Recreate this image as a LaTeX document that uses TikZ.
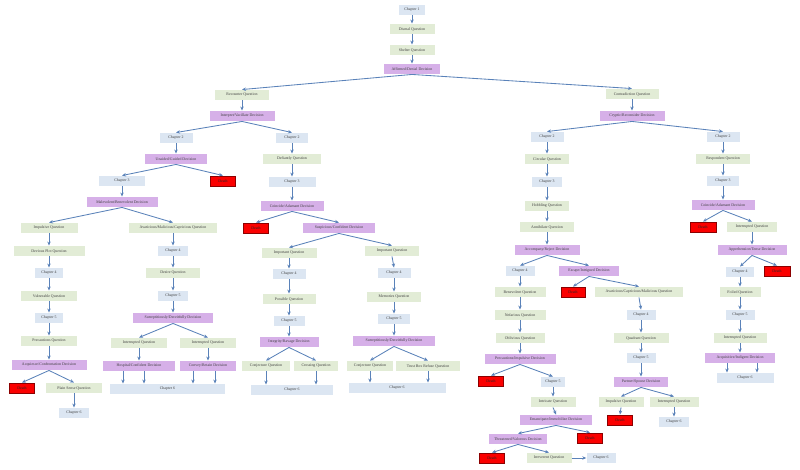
\documentclass[tikz,border=0pt]{standalone}
\usepackage{fontspec}
\setmainfont{Liberation Serif}
\usetikzlibrary{arrows.meta}
\definecolor{chapblue}{RGB}{220,230,242}
\definecolor{quesgreen}{RGB}{226,236,214}
\definecolor{deciviolet}{RGB}{214,176,232}
\definecolor{deadred}{RGB}{250,0,0}
\definecolor{linkblue}{RGB}{90,130,185}

\begin{document}
\begin{tikzpicture}[x=1pt,y=-1pt,>={Stealth[length=4pt,width=3.4pt]},
  box/.style={inner sep=0pt,minimum height=10.5pt,font=\fontsize{3.9}{4.5}\selectfont,text=black!75},
  chap/.style={box,fill=chapblue,minimum width=30pt},
  ques/.style={box,fill=quesgreen,minimum width=54pt},
  deci/.style={box,fill=deciviolet,minimum width=66pt},
  dead/.style={box,fill=deadred,draw=red!55!black,text=black!85,minimum width=25pt},
  link/.style={->,draw=linkblue,line width=0.85pt}]
  \useasboundingbox (0,0) rectangle (800,470);
  % trunk
  \node[chap,minimum width=26pt] (c1) at (412,10) {Chapter 1};
  \node[ques,minimum width=45pt] (q1) at (412,29) {Dismal Question};
  \node[ques,minimum width=45pt] (q2) at (412,50) {Shelter Question};
  \node[deci,minimum width=56pt] (d1) at (412,69) {Affirmed/Denial Decision};
  \node[ques] (q3) at (242,95) {Recounter Question};
  \node[deci,minimum width=65pt] (d2) at (242,116) {Interpret/Vacillate Decision};
  \node[ques,minimum width=53pt] (q4) at (632,94) {Contradiction Question};
  \node[deci,minimum width=65pt] (d3) at (632,116) {Cryptic/Reconsider Decision};
  % left branch
  \node[chap,minimum width=33pt] (c2a) at (176,138) {Chapter 2};
  \node[deci,minimum width=62pt] (d4) at (176,159) {Unaided/Guided Decision};
  \node[dead] (x1) at (223,181) {Death};
  \node[chap,minimum width=46pt] (c3a) at (122,181) {Chapter 3};
  \node[deci,minimum width=71pt] (d5) at (122,202) {Malevolent/Benevolent Decision};
  \node[ques,minimum width=57pt] (q5) at (49,228) {Impulsive Question};
  \node[ques,minimum width=71pt] (q6) at (49,251) {Devious Plot Question};
  \node[chap,minimum width=28pt] (c4a) at (49,273) {Chapter 4};
  \node[ques,minimum width=56pt] (q7) at (49,296) {Vulnerable Question};
  \node[chap,minimum width=28pt] (c5a) at (49,318) {Chapter 5};
  \node[ques,minimum width=56pt] (q8) at (49,341) {Precautions Question};
  \node[deci,minimum width=75pt] (d6) at (49,365) {Acquiesce/Confrontation Decision};
  \node[dead] (x2) at (22,388) {Death};
  \node[ques,minimum width=56pt] (q9) at (74,388) {Plain Sense Question};
  \node[chap] (c6a) at (74,413) {Chapter 6};
  \node[ques,minimum width=88pt] (q10) at (173,228) {Avaricious/Malicious/Capricious Question};
  \node[chap] (c4b) at (173,251) {Chapter 4};
  \node[ques] (q11) at (173,273) {Desire Question};
  \node[chap] (c5b) at (173,296) {Chapter 5};
  \node[deci,minimum width=80pt] (d7) at (173,318) {Surreptitiously/Deceitfully Decision};
  \node[ques,minimum width=56pt] (q12) at (139,343) {Interrupted Question};
  \node[ques,minimum width=56pt] (q13) at (208,343) {Interrupted Question};
  \node[deci,minimum width=72pt] (d8) at (139,366) {Hospital/Confident Decision};
  \node[deci,minimum width=56pt] (d9) at (208,366) {Convey/Retain Decision};
  \node[chap,minimum width=115pt] (c6b) at (167.5,389) {Chapter 6};
  % middle branch
  \node[chap,minimum width=32pt] (c2b) at (292,138) {Chapter 2};
  \node[ques,minimum width=58pt] (q14) at (292,159) {Defiantly Question};
  \node[chap,minimum width=47pt] (c3b) at (292,182) {Chapter 3};
  \node[deci,minimum width=63pt] (d10) at (292,206) {Coincide/Adamant Decision};
  \node[dead] (x3) at (256,228) {Death};
  \node[deci,minimum width=72pt] (d11) at (339,228) {Suspicious/Confident Decision};
  \node[ques,minimum width=55pt] (q15) at (289,253) {Important Question};
  \node[chap,minimum width=33pt] (c4c) at (289,274) {Chapter 4};
  \node[ques,minimum width=53pt] (q16) at (289,299) {Possible Question};
  \node[chap,minimum width=31pt] (c5c) at (289,321) {Chapter 5};
  \node[deci,minimum width=59pt] (d12) at (289,342) {Integrity/Ravage Decision};
  \node[ques,minimum width=48pt] (q17) at (266,366) {Conjecture Question};
  \node[ques,minimum width=44pt] (q18) at (316,366) {Crossing Question};
  \node[chap,minimum width=82pt] (c6c) at (292,390) {Chapter 6};
  \node[ques] (q19) at (392,251) {Important Question};
  \node[chap,minimum width=33pt] (c4d) at (394,273) {Chapter 4};
  \node[ques] (q20) at (394,297) {Memories Question};
  \node[chap,minimum width=32pt] (c5d) at (394,319) {Chapter 5};
  \node[deci,minimum width=82pt] (d13) at (394,341) {Surreptitiously/Deceitfully Decision};
  \node[ques,minimum width=46pt] (q21) at (370,366) {Conjecture Question};
  \node[ques,minimum width=64pt] (q22) at (428,366) {Trust Box Refuse Question};
  \node[chap,minimum width=97pt] (c6d) at (397,388) {Chapter 6};
  % right branch
  \node[chap,minimum width=33pt] (c2c) at (547,137) {Chapter 2};
  \node[ques,minimum width=44pt] (q23) at (547,159) {Circular Question};
  \node[chap] (c3c) at (547,182) {Chapter 3};
  \node[ques,minimum width=44pt] (q24) at (547,206) {Hobbling Question};
  \node[ques] (q25) at (547,227) {Annihilate Question};
  \node[deci,minimum width=65pt] (d14) at (547,250) {Accompany/Reject Decision};
  \node[chap,minimum width=29pt] (c4e) at (520,271) {Chapter 4};
  \node[deci,minimum width=60pt] (d15) at (589,271) {Escape/Intrigued Decision};
  \node[ques,minimum width=51pt] (q26) at (520,292) {Benevolent Question};
  \node[ques,minimum width=51pt] (q27) at (520,315) {Nefarious Question};
  \node[ques,minimum width=49pt] (q28) at (520,338) {Oblivious Question};
  \node[deci,minimum width=71pt] (d16) at (520,359) {Precautions/Impulsive Decision};
  \node[dead] (x4) at (491,381) {Death};
  \node[chap,minimum width=24pt] (c5e) at (553,382) {Chapter 5};
  \node[ques,minimum width=45pt] (q29) at (553,402) {Intricate Question};
  \node[deci,minimum width=72pt] (d17) at (556,420) {Emancipate/Immobilize Decision};
  \node[deci,minimum width=58pt] (d18) at (518,439) {Threatened/Valorous Decision};
  \node[dead] (x5) at (590,438) {Death};
  \node[dead] (x6) at (492,458) {Death};
  \node[ques,minimum width=45pt] (q30) at (549,458) {Irreverent Question};
  \node[chap,minimum width=29pt] (c6e) at (601,458) {Chapter 6};
  \node[dead,minimum width=24pt] (x7) at (573,292) {Death};
  \node[ques,minimum width=88pt] (q31) at (639,292) {Avaricious/Capricious/Malicious Question};
  \node[chap,minimum width=29pt] (c4f) at (641,315) {Chapter 4};
  \node[ques,minimum width=55pt] (q32) at (641,338) {Quadrant Question};
  \node[chap,minimum width=29pt] (c5f) at (641,358) {Chapter 5};
  \node[deci,minimum width=54pt] (d19) at (641,382) {Partner/Spouse Decision};
  \node[ques,minimum width=45pt] (q33) at (621,402) {Impulsive Question};
  \node[ques,minimum width=49pt] (q34) at (674,402) {Interrupted Question};
  \node[dead] (x8) at (620,420) {Death};
  \node[chap] (c6f) at (674,422) {Chapter 6};
  \node[chap,minimum width=33pt] (c2d) at (723,137) {Chapter 2};
  \node[ques] (q35) at (723,159) {Respondent Question};
  \node[chap,minimum width=32pt] (c3d) at (723,181) {Chapter 3};
  \node[deci,minimum width=63pt] (d20) at (723,205) {Coincide/Adamant Decision};
  \node[dead,minimum width=26pt] (x9) at (703,227) {Death};
  \node[ques,minimum width=50pt] (q36) at (752,227) {Interrupted Question};
  \node[deci,minimum width=69pt] (d21) at (752,250) {Apprehension/Tense Decision};
  \node[chap,minimum width=28pt] (c4g) at (740,272) {Chapter 4};
  \node[dead,minimum width=26pt] (x10) at (777,271) {Death};
  \node[ques,minimum width=41pt] (q37) at (740,292) {Foiled Question};
  \node[chap,minimum width=29pt] (c5g) at (740,315) {Chapter 5};
  \node[ques,minimum width=53pt] (q38) at (740,338) {Interrupted Question};
  \node[deci,minimum width=70pt] (d22) at (740,358) {Acquisitive/Indigent Decision};
  \node[chap,minimum width=57pt] (c6g) at (745,378) {Chapter 6};
  % links
  \foreach \a/\b in {c1/q1,q1/q2,q2/d1,d1/q3,d1/q4,q3/d2,q4/d3,d2/c2a,d2/c2b,d3/c2c,d3/c2d,
      c2a/d4,d4/c3a,d4/x1,c3a/d5,d5/q5,d5/q10,q5/q6,q6/c4a,c4a/q7,q7/c5a,c5a/q8,q8/d6,d6/x2,d6/q9,q9/c6a,
      q10/c4b,c4b/q11,q11/c5b,c5b/d7,d7/q12,d7/q13,q12/d8,q13/d9,
      c2b/q14,q14/c3b,c3b/d10,d10/x3,d10/d11,d11/q15,d11/q19,q15/c4c,c4c/q16,q16/c5c,c5c/d12,d12/q17,d12/q18,
      q19/c4d,c4d/q20,q20/c5d,c5d/d13,d13/q21,d13/q22,
      c2c/q23,q23/c3c,c3c/q24,q24/q25,q25/d14,d14/c4e,d14/d15,c4e/q26,q26/q27,q27/q28,q28/d16,d16/x4,d16/c5e,
      c5e/q29,q29/d17,d17/d18,d17/x5,d18/x6,d18/q30,d15/x7,d15/q31,q31/c4f,c4f/q32,q32/c5f,c5f/d19,
      d19/q33,d19/q34,q33/x8,q34/c6f,
      c2d/q35,q35/c3d,c3d/d20,d20/x9,d20/q36,q36/d21,d21/c4g,d21/x10,c4g/q37,q37/c5g,c5g/q38,q38/d22}
    \draw[link] (\a.south) -- (\b.north);
  \foreach \a/\b in {q17/c6c,q18/c6c,q21/c6d,q22/c6d}
    \draw[link] (\a.south) -- (\a.south |- \b.north);
  \foreach \a/\b/\s in {d8/c6b/-16,d8/c6b/5,d9/c6b/-15,d9/c6b/7,d22/c6g/-13,d22/c6g/17}
    \draw[link] ([xshift=\s pt]\a.south) -- ([xshift=\s pt]\a.south |- \b.north);
  \draw[link] (q30) -- (c6e);
\end{tikzpicture}
\end{document}
